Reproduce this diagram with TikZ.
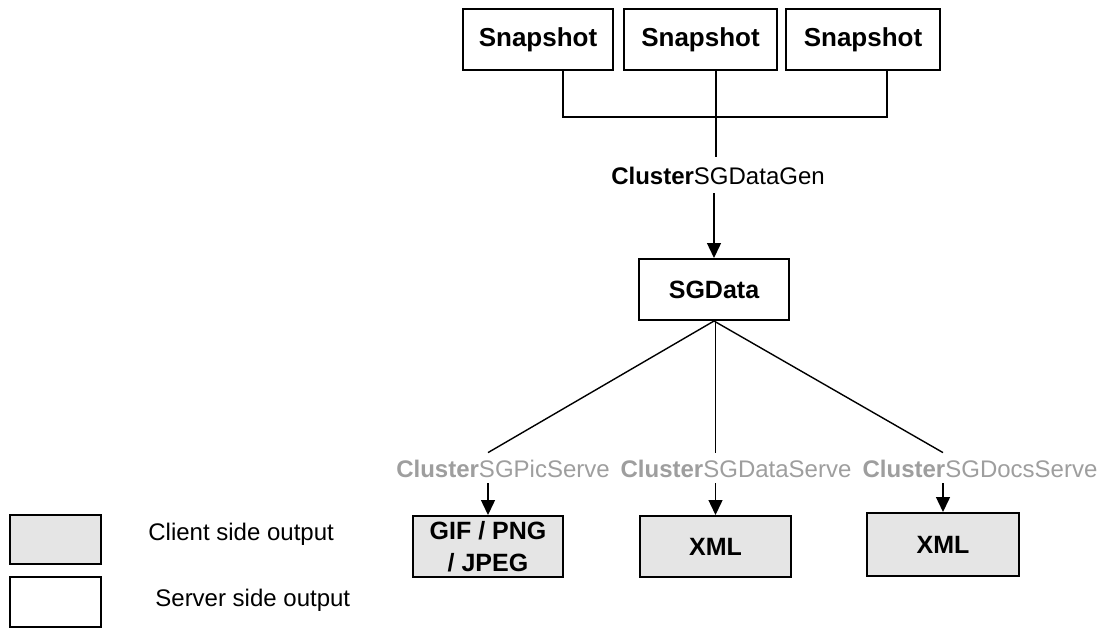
\documentclass[tikz,border=0pt]{standalone}
\usepackage{fontspec}
\setmainfont{Liberation Sans}
\usetikzlibrary{arrows.meta}

\tikzset{
  outbox/.style={draw, line width=1pt, minimum width=75pt, minimum height=30.5pt,
    inner sep=0pt, align=center, font=\fontsize{12.5}{16}\selectfont\bfseries},
  snapbox/.style={outbox, font=\fontsize{13}{15}\selectfont\bfseries},
  clientbox/.style={outbox, fill=gray!20},
  genlabel/.style={font=\fontsize{12}{14}\selectfont, inner xsep=0pt, inner ysep=4.5pt,
    text height=9pt, text depth=0pt},
  srvlabel/.style={genlabel, text=black!38, inner ysep=3pt},
  keytext/.style={anchor=west, inner sep=0pt, font=\fontsize{12}{14}\selectfont},
  link/.style={line width=0.7pt},
  arr/.style={link, -{Triangle[width=7pt,length=7.5pt]}},
}

\begin{document}
\begin{tikzpicture}[x=0.5pt, y=-0.5pt]
    \useasboundingbox (0,0) rectangle (1101,628);

    % Snapshots on top
    \node[snapbox] (snapA) at (538,39.5) {Snapshot};
    \node[snapbox, minimum width=76.5pt] (snapB) at (700.5,39.5) {Snapshot};
    \node[snapbox, minimum width=77pt] (snapC) at (863,39.5) {Snapshot};

    % Joining bar
    \coordinate (joinA) at (563,117);
    \coordinate (joinB) at (716,117);
    \coordinate (joinC) at (887,117);
    \draw[link] (snapA.south -| joinA) -- (joinA) -- (joinC) -- (snapC.south -| joinC);

    % Generator and its data
    \node[genlabel] (datagen) at (718,175) {\textbf{Cluster}SGDataGen};
    \draw[link] (snapB.south -| joinB) -- (joinB |- datagen.north);
    \node[outbox] (sgdata) at (714,289.5) {SGData};
    \draw[arr] (datagen.south -| sgdata) -- (sgdata);

    % Servers
    \node[srvlabel] (picserve) at (503,468) {\textbf{Cluster}SGPicServe};
    \node[srvlabel] (dataserve) at (736,468) {\textbf{Cluster}SGDataServe};
    \node[srvlabel] (docsserve) at (980,468) {\textbf{Cluster}SGDocsServe};

    % Client side outputs
    \node[clientbox] (picout) at (488,546.5) {GIF / PNG\\/ JPEG};
    \node[clientbox, minimum width=75.5pt] (dataout) at (715.5,546.5) {XML};
    \node[clientbox, minimum width=76pt, minimum height=31.5pt] (docsout) at (943,544.5) {XML};

    \draw[link] (sgdata.south) -- (picserve.north -| picout);
    \draw[link] (sgdata.south -| dataout) -- (dataserve.north -| dataout);
    \draw[link] (sgdata.south) -- (docsserve.north -| docsout);

    \draw[arr] (picserve.south -| picout) -- (picout);
    \draw[arr] (dataserve.south -| dataout) -- (dataout);
    \draw[arr] (docsserve.south -| docsout) -- (docsout);

    % Key
    \node[clientbox, minimum width=45.5pt, minimum height=24.5pt] (keyclient) at (55.5,539.5) {};
    \node[outbox, minimum width=45.5pt, minimum height=25pt] (keyserver) at (55.5,602) {};
    \node[keytext] (keyclienttxt) at (148,534) {Client side output};
    \node[keytext] (keyservertxt) at (155,600) {Server side output};

\end{tikzpicture}
\end{document}
